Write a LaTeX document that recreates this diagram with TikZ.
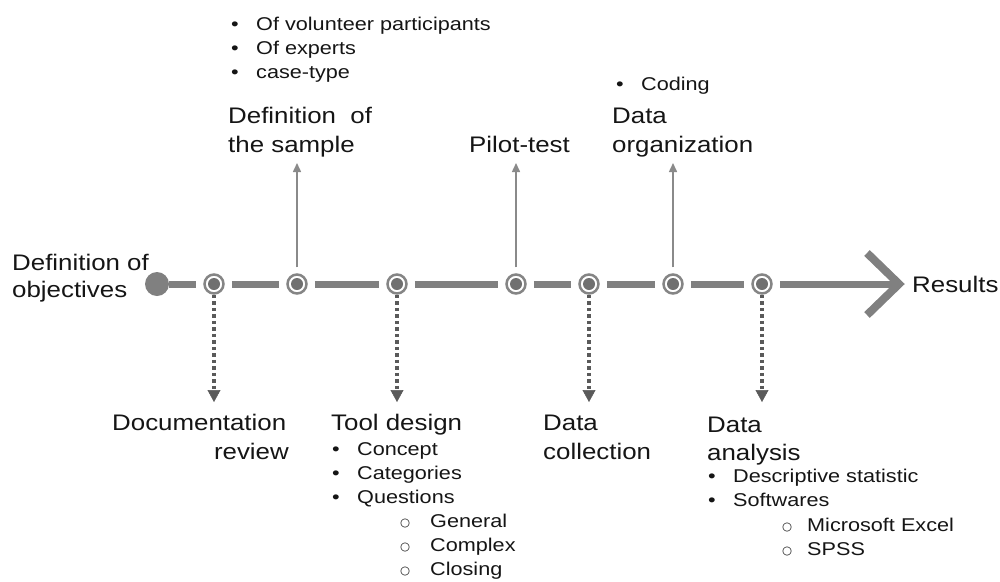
\documentclass[tikz,border=0pt]{standalone}
\usepackage{fontspec}
\setmainfont{Liberation Sans}[FakeStretch=1.15]
\newfontfamily\smallfam{Liberation Sans}[FakeStretch=1.17]
\newfontfamily\dejavu{DejaVu Sans}
\usetikzlibrary{arrows.meta,calc}
\definecolor{linegray}{HTML}{808080}
\definecolor{ringgray}{HTML}{858585}
\definecolor{dotgray}{HTML}{707070}
\definecolor{upgray}{HTML}{8A8A8A}
\definecolor{dotcol}{HTML}{5A5A5A}
\definecolor{txt}{HTML}{151515}
\newcommand{\bul}{\makebox[25pt][l]{•}}
\newcommand{\subbul}[1]{\makebox[#1][l]{\raisebox{0.5pt}{\fontsize{11.5}{12}\selectfont\dejavu ○}}}
\tikzset{
  big/.style={font=\fontsize{22.5}{26}\selectfont, anchor=base west, inner sep=0pt, text=txt},
  small/.style={font=\smallfam\fontsize{18.5}{22}\selectfont, anchor=base west, inner sep=0pt, text=txt},
  stopnode/.style={circle, draw=ringgray, line width=2.5pt, minimum size=19pt, inner sep=0pt, fill=white,
    path picture={\fill[dotgray] (path picture bounding box.center) circle (6pt);}},
  startnode/.style={circle, fill=linegray, minimum size=24pt, inner sep=0pt},
  tl/.style={draw=linegray, line width=7pt},
  chev/.style={draw=linegray, line width=8pt, line join=miter},
  uparrow/.style={draw=upgray, line width=1.5pt, shorten <=6pt, -{Triangle[length=9pt,width=8pt]}},
  downarrow/.style={draw=dotcol, line width=3.5pt, dash pattern=on 3.5pt off 3pt,
    -{Triangle[length=12pt,width=13pt,line width=0.5pt]}}
}
\begin{document}
\begin{tikzpicture}[x=1pt,y=-1pt]
\useasboundingbox (0,0) rectangle (1000,581);
% timeline
\node[startnode] (start) at (157,284) {};
\node[stopnode] (s1) at (214,284) {};
\node[stopnode] (s2) at (297,284) {};
\node[stopnode] (s3) at (397,284) {};
\node[stopnode] (s4) at (516,284) {};
\node[stopnode] (s5) at (589,284) {};
\node[stopnode] (s6) at (673,284) {};
\node[stopnode] (s7) at (762,284) {};
\coordinate (tip) at (899,284);
\draw[tl, shorten >=7pt] (start) -- (s1);
\draw[tl, shorten <=7pt, shorten >=7pt] (s1) -- (s2);
\draw[tl, shorten <=7pt, shorten >=7pt] (s2) -- (s3);
\draw[tl, shorten <=7pt, shorten >=7pt] (s3) -- (s4);
\draw[tl, shorten <=7pt, shorten >=7pt] (s4) -- (s5);
\draw[tl, shorten <=7pt, shorten >=7pt] (s5) -- (s6);
\draw[tl, shorten <=7pt, shorten >=7pt] (s6) -- (s7);
\draw[tl, shorten <=7pt] (s7) -- (tip);
\draw[chev] ($(tip)+(-32,-31)$) -- (tip) -- ($(tip)+(-32,31)$);
% up arrows
\coordinate (u2) at (297,163);
\coordinate (u4) at (516,163);
\coordinate (u6) at (673,163);
\draw[uparrow] (s2) -- (u2);
\draw[uparrow] (s4) -- (u4);
\draw[uparrow] (s6) -- (u6);
% down arrows
\coordinate (d1) at (214,402);
\coordinate (d3) at (397,402);
\coordinate (d5) at (589,402);
\coordinate (d7) at (762,402);
\draw[downarrow] (s1) -- (d1);
\draw[downarrow] (s3) -- (d3);
\draw[downarrow] (s5) -- (d5);
\draw[downarrow] (s7) -- (d7);
% left and right
\node[big] (obj1) at (12,270) {Definition of};
\node[big] (obj2) at (12,297) {objectives};
\node[big] (res) at (912,292) {Results};
% top: sample
\node[small] (sa1) at (231,30) {\bul Of volunteer participants};
\node[small] (sa2) at (231,54) {\bul Of experts};
\node[small] (sa3) at (231,78) {\bul case-type};
\node[big] (samp1) at (228,123) {Definition\ \ of};
\node[big] (samp2) at (228,152) {the sample};
% pilot
\node[big] (pilot) at (469,152) {Pilot-test};
% organization
\node[small] (org0) at (616,90) {\bul Coding};
\node[big] (org1) at (612,123) {Data};
\node[big] (org2) at (612,152) {organization};
% bottom: documentation
\node[big] (doc1) at (112,430) {Documentation};
\node[big, anchor=base east] (doc2) at (289,459) {review};
% tool design
\node[big] (tool) at (331,430) {Tool design};
\node[small] (t1) at (332,455) {\bul Concept};
\node[small] (t2) at (332,479) {\bul Categories};
\node[small] (t3) at (332,503) {\bul Questions};
\node[small] (t4) at (400,527) {\subbul{30pt}General};
\node[small] (t5) at (400,551) {\subbul{30pt}Complex};
\node[small] (t6) at (400,575) {\subbul{30pt}Closing};
% data collection
\node[big] (col1) at (543,430) {Data};
\node[big] (col2) at (543,459) {collection};
% data analysis
\node[big] (an1) at (707,432) {Data};
\node[big] (an2) at (707,460) {analysis};
\node[small] (a1) at (708,482) {\bul Descriptive statistic};
\node[small] (a2) at (708,506) {\bul Softwares};
\node[small] (a3) at (782,531) {\subbul{25pt}Microsoft Excel};
\node[small] (a4) at (782,555) {\subbul{25pt}SPSS};
\end{tikzpicture}
\end{document}
